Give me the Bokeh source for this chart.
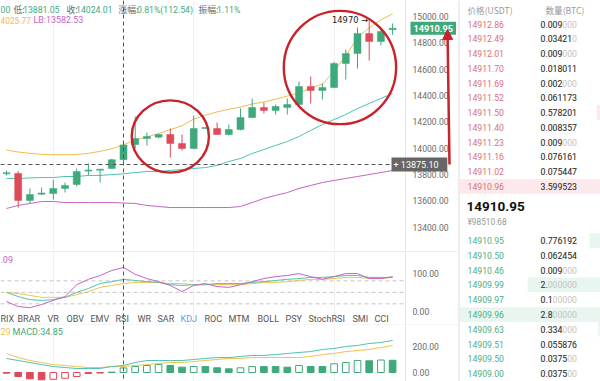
from bokeh.plotting import figure
from bokeh.layouts import row, column
from bokeh.models import (Range1d, LinearAxis, FixedTicker, NumeralTickFormatter, Span, Label,
                          Arrow, NormalHead, ColumnDataSource)
from bokeh.core.properties import value
from bokeh.embed import file_html
from bokeh.resources import INLINE

# ---------------- data ----------------
OPEN = [13805, 13807, 13602, 13650, 13655, 13693, 13723, 13825, 13832, 13845, 13911.47, 14027, 14073, 14083,
        14103, 14035, 13997, 14149, 14149, 14103, 14141, 14232, 14308, 14286, 14308, 14331, 14468, 14438,
        14460, 14643, 14719, 14871, 14810, 14900]
HIGH = [13830, 13825, 13693, 13700, 13761, 13738, 13845, 13883, 13840, 13918, 14035.00, 14240, 14118, 14110,
        14149, 14103, 14248, 14153, 14194, 14179, 14301, 14377, 14346, 14331, 14377, 14506, 14544, 14491,
        14655, 14749, 14916, 14970, 14905, 14947]
LOW = [13792, 13548, 13579, 13645, 13609, 13662, 13708, 13792, 13738, 13842, 13881.05, 13997, 14020, 14075,
       13928, 13982, 13990, 14146, 14100, 14098, 14135, 14228, 14263, 14255, 14255, 14325, 14339, 14369,
       14455, 14521, 14605, 14666, 14780, 14860]
CLOSE = [13808, 13602, 13647, 13655, 13693, 13716, 13822, 13830, 13837, 13911.47, 14024.01, 14073, 14088, 14103,
         14035, 13997, 14149, 14151, 14103, 14141, 14232, 14308, 14286, 14316, 14331, 14468, 14438, 14460,
         14643, 14719, 14871, 14810, 14886, 14910.95]
BOLL_UB = [13985, 13970, 13960, 13952, 13950, 13950, 13952, 13960, 13975, 13995, 14025.77, 14060, 14085, 14110,
           14140, 14170, 14220, 14250, 14275, 14295, 14312, 14335, 14350, 14372, 14395, 14418, 14456, 14486,
           14585, 14700, 14840, 14915, 14975, 15020]
BOLL_MB = [13769, 13769, 13773, 13776, 13776, 13784, 13784, 13792, 13792, 13799, 13804.15, 13814, 13822, 13822,
           13830, 13837, 13845, 13852, 13868, 13898, 13921, 13959, 13989, 14020, 14050, 14088, 14134, 14179,
           14217, 14255, 14301, 14339, 14377, 14415]
BOLL_LB = [13541, 13564, 13579, 13594, 13594, 13586, 13586, 13586, 13586, 13586, 13582.53, 13579, 13564, 13556,
           13548, 13548, 13548, 13548, 13548, 13548, 13556, 13586, 13617, 13640, 13662, 13693, 13716, 13738,
           13754, 13769, 13784, 13799, 13814, 13830]
KDJ_K = [50, 39, 31, 29, 31, 37, 50, 60, 73, 78, 84, 81, 78, 76, 70, 68, 70, 70, 73, 73, 73, 76, 78, 81,
         84, 86, 89, 89, 91, 94, 94, 89, 89, 89]
KDJ_D = [50, 47, 42, 37, 37, 37, 44, 52, 63, 68, 73, 76, 76, 76, 73, 73, 70, 70, 70, 70, 70, 73, 76, 76,
         78, 81, 84, 84, 86, 89, 89, 86, 86, 89]
KDJ_J = [26, 13, 10, 18, 29, 39, 70, 84, 94, 107, 115.09, 97, 86, 78, 68, 52, 68, 73, 65, 63, 70, 78, 86, 91,
         94, 99, 91, 84, 91, 99, 99, 86, 86, 91]
DIF = [108, 92, 77, 61, 46, 38, 31, 31, 31, 46, 54, 77, 92, 92, 92, 92, 100, 108, 115, 115, 123, 131, 131, 138,
       146, 154, 161, 177, 185, 200, 208, 223, 231, 246]
DEA = [146, 115, 92, 77, 61, 54, 46, 38, 38, 46, 46, 54, 61, 69, 77, 77, 85, 92, 100, 108, 108, 115, 115, 115,
       115, 115, 123, 138, 146, 161, 169, 177, 192, 208]
MACD = [-5, -31, -49, -56, -52, -44, -31, -8, -4, 3, 34.85, 46, 54, 62, 54, 41, 46, 46, 36, 28, 36, 46, 46, 46,
        41, 54, 46, 46, 67, 77, 92, 90, 96, 94]

PRICE_TICKS = [13400, 13600, 13800, 14000, 14200, 14400, 14600, 14800, 15000]
KDJ_TICKS = [0, 100]
KDJ_LEVELS = [80, 50, 20]
MACD_TICKS = [0, 200]

CROSS_IDX = 10
CROSS_PRICE = 13875.10
CIRCLES = [(11, 17), (24, 33)]

ASK_PRICE = ["14912.86", "14912.49", "14912.01", "14911.70", "14911.69", "14911.52", "14911.50", "14911.40",
             "14911.23", "14911.16", "14911.02", "14910.96"]
ASK_AMT = ["0.009000", "0.034210", "0.009000", "0.018011", "0.002000", "0.061173", "0.578201", "0.008357",
           "0.009000", "0.076161", "0.075447", "3.599523"]
BID_PRICE = ["14910.95", "14910.50", "14910.46", "14909.99", "14909.97", "14909.96", "14909.63", "14909.51",
             "14909.50", "14909.00"]
BID_AMT = ["0.776192", "0.062454", "0.009000", "2.000000", "0.100000", "2.800000", "0.334000", "0.055876",
           "0.037500", "0.037500"]
LAST_PRICE = "14910.95"
LAST_CNY = "¥98510.68"

# visible header fragments (the window cuts the left part of each line)
HDR1 = [("00", "v"), ("低:", "k"), ("13881.05", "v"), ("收:", "k"), ("14024.01", "v"), ("涨幅:", "k"),
        ("0.81%(112.54)", "v"), ("振幅:", "k"), ("1.11%", "v")]
HDR2 = [("4025.77", "ub"), ("LB:13582.53", "lb")]
KDJ_HDR = ".09"
MACD_HDR = [("29", "dea"), ("MACD:34.85", "macd")]

TABS = ["RIX", "BRAR", "VR", "OBV", "EMV", "RSI", "WR", "SAR", "KDJ", "ROC", "MTM", "BOLL", "PSY",
        "StochRSI", "SMI", "CCI"]
ACTIVE_TAB = "KDJ"

# ---------------- style / layout ----------------
def fs(px):
    return f"{px:.1f}px"

GREEN = "#3fa97c"
RED = "#dd4b58"
ORANGE = "#f2bb50"
TEAL = "#4fc2b2"
PURPLE = "#c563c6"
YELLOW = "#f0c24e"
ANNO = "#c8222b"
GRAY_TXT = "#6b6b6b"
FONT = "Roboto"
CJK = "Noto Sans CJK SC"

W_LEFT, W_OB = 457, 143
H_MAIN, H_KDJ, H_MACD = 250, 75, 56
AXIS_X = 405          # pixel column of the price-axis line


def ix(xp):
    return (xp - 6) / 11.7
def py(yp):
    return 15000 - (yp - 16) * 7.6
def ky(yp):
    return (311 - yp) / 0.383
def my(yp):
    return (372 - yp) * 7.69

N = len(CLOSE)
IDX = list(range(N))
XR = (ix(0), ix(W_LEFT))


def make_fig(w, h, xr, yr):
    p = figure(width=w, height=h, x_range=Range1d(*xr), y_range=Range1d(*yr), output_backend="svg",
               toolbar_location=None, x_axis_location=None, y_axis_location=None,
               min_border_left=0, min_border_right=0, min_border_top=0, min_border_bottom=0)
    p.outline_line_color = None
    p.background_fill_color = "white"
    p.border_fill_color = "white"
    return p


def right_axis(p, ticks, size):
    ax = LinearAxis(ticker=FixedTicker(ticks=ticks), formatter=NumeralTickFormatter(format="0.00"),
                    fixed_location=ix(AXIS_X))
    ax.major_tick_line_color = None
    ax.minor_tick_line_color = None
    ax.major_tick_out = 0
    ax.major_tick_in = 0
    ax.axis_line_color = "#e4e4e4"
    ax.major_label_text_font = FONT
    ax.major_label_text_font_size = fs(size)
    ax.major_label_text_color = GRAY_TXT
    ax.major_label_standoff = 7
    p.add_layout(ax, "right")


def cross_v(p):
    p.add_layout(Span(location=CROSS_IDX, dimension="height", line_color="#555555", line_dash="4 3",
                      line_width=1))


def setup_grid(p):
    p.xgrid.ticker = FixedTicker(ticks=[4, 16, 28])
    p.xgrid.grid_line_color = "#f1f1f1"
    p.ygrid.visible = False


# ---------------- main candle chart ----------------
pm = make_fig(W_LEFT, H_MAIN, XR, (py(H_MAIN), py(0)))
setup_grid(pm)
right_axis(pm, PRICE_TICKS, 8.6)

up = [c >= o for o, c in zip(OPEN, CLOSE)]
col = [GREEN if u else RED for u in up]
bot = [min(o, c) for o, c in zip(OPEN, CLOSE)]
top = [max(max(o, c), b + 8) for o, c, b in zip(OPEN, CLOSE, bot)]
src = ColumnDataSource(dict(x=IDX, o=OPEN, h=HIGH, l=LOW, c=CLOSE, top=top, bot=bot, col=col))

pm.line(IDX, BOLL_UB, line_color=ORANGE, line_width=1)
pm.line(IDX, BOLL_MB, line_color=TEAL, line_width=1)
pm.line(IDX, BOLL_LB, line_color=PURPLE, line_width=1)
pm.segment(x0="x", y0="l", x1="x", y1="h", line_color="col", line_width=1, source=src)
pm.vbar(x="x", width=0.6, top="top", bottom="bot", fill_color="col", line_color="col", line_width=0.5,
        source=src)

cross_v(pm)
pm.segment(x0=[ix(0)], x1=[ix(392)], y0=[CROSS_PRICE], y1=[CROSS_PRICE], line_color="#555555",
           line_dash="4 3", line_width=1)

# max-high marker
imax = max(IDX, key=lambda i: HIGH[i])
pm.text(x=[imax - 0.1], y=[HIGH[imax]], text=[f"{HIGH[imax]:.0f} →"], text_align="right",
        text_baseline="middle", text_font=value("DejaVu Sans"), text_font_size=fs(8.3), text_color="#222222")

# hand-drawn circles
for i0, i1 in CIRCLES:
    hh = max(HIGH[i0:i1 + 1]); ll = min(LOW[i0:i1 + 1])
    pm.ellipse(x=[(i0 + i1) / 2], y=[(hh + ll) / 2], width=[(i1 - i0) + 0.6],
               height=[0.79 * (hh - ll) + 296], fill_color=None, line_color=ANNO, line_width=2.4)

# header lines
HDR1_X = [0, 13, 22.5, 66, 75.5, 118, 136.5, 198, 216.5]
for (t, kind), xp in zip(HDR1, HDR1_X):
    cjk = kind == "k"
    pm.text(x=[ix(xp)], y=[py(9)], text=[t], text_baseline="alphabetic", text_font=value(CJK if cjk else FONT),
            text_font_size=fs(8.8 if cjk else 8.7), text_color=GRAY_TXT if cjk else GREEN)
HDR_COL = {"ub": ORANGE, "lb": PURPLE, "dea": YELLOW, "macd": GREEN}
for (t, kind), xp in zip(HDR2, [0, 33]):
    pm.text(x=[ix(xp)], y=[py(19.5)], text=[t], text_baseline="alphabetic", text_font=value(FONT),
            text_font_size=fs(8.4 if kind == "ub" else 8.9), text_color=HDR_COL[kind])

# price tags on the axis
pm.add_layout(Label(x=ix(410), y=CLOSE[-1], text=f"{CLOSE[-1]:.2f}", text_color="white",
                    text_font=FONT, text_font_size=fs(9.2), text_font_style="bold", text_baseline="middle",
                    background_fill_color=GREEN, padding=3))
pm.add_layout(Label(x=ix(391), y=CROSS_PRICE, text=f"+    {CROSS_PRICE:.2f}", text_color="white",
                    text_font=FONT, text_font_size=fs(9), text_baseline="middle",
                    background_fill_color="#666666", padding=2))
pm.add_layout(Arrow(end=NormalHead(size=10, fill_color=ANNO, line_color=ANNO), x_start=ix(449),
                    y_start=py(164), x_end=ix(447), y_end=py(29), line_color=ANNO, line_width=2.5))

# ---------------- KDJ panel + tabs ----------------
pk = make_fig(W_LEFT, H_KDJ, XR, (ky(325), ky(250)))
setup_grid(pk)
right_axis(pk, KDJ_TICKS, 8.6)
pk.segment(x0=[ix(0)] * 3, x1=[ix(AXIS_X)] * 3, y0=KDJ_LEVELS, y1=KDJ_LEVELS, line_color="#c4c4c4",
           line_dash="4 3", line_width=1)
pk.add_layout(Span(location=ky(251), dimension="width", line_color="#ececec", line_width=1))
pk.add_layout(Span(location=ky(324.5), dimension="width", line_color="#ececec", line_width=1))
pk.line(IDX, KDJ_D, line_color=YELLOW, line_width=1)
pk.line(IDX, KDJ_K, line_color=TEAL, line_width=1)
pk.line(IDX, KDJ_J, line_color=PURPLE, line_width=1)
cross_v(pk)
pk.text(x=[ix(0)], y=[ky(259)], text=[KDJ_HDR], text_baseline="middle",
        text_font=value(FONT), text_font_size=fs(9), text_color=PURPLE)
TAB_X = [0, 17, 47, 66, 90, 115, 137, 157, 180, 204, 228, 257, 285, 308, 352, 374]
pk.text(x=[ix(v) for v in TAB_X], y=[ky(318)] * len(TABS), text=TABS, text_baseline="middle",
        text_font=value(FONT), text_font_size=fs(9),
        text_color=["#5aa0e6" if t == ACTIVE_TAB else "#555555" for t in TABS])

# ---------------- MACD panel ----------------
pc = make_fig(W_LEFT, H_MACD, XR, (my(381), my(325)))
setup_grid(pc)
right_axis(pc, MACD_TICKS, 8.6)
fills, lines = [], []
for i, v in enumerate(MACD):
    prev = MACD[i - 1] if i > 0 else None
    c = GREEN if v >= 0 else RED
    hollow = prev is not None and v > prev
    lines.append(c)
    fills.append("white" if hollow else c)
pc.vbar(x=IDX, width=0.57, top=[max(v, 0) for v in MACD], bottom=[min(v, 0) for v in MACD],
        fill_color=fills, line_color=lines, line_width=1)
pc.line(IDX, DEA, line_color=YELLOW, line_width=1)
pc.line(IDX, DIF, line_color=TEAL, line_width=1)
cross_v(pc)
for (t, kind), xp in zip(MACD_HDR, [0, 12]):
    pc.text(x=[ix(xp)], y=[my(331)], text=[t], text_baseline="middle", text_font=value(FONT),
            text_font_size=fs(9), text_color=HDR_COL[kind])

# ---------------- order book ----------------
po = make_fig(W_OB, H_MACD + H_KDJ + H_MAIN, (457, 600), (381, 0))
po.grid.visible = False
ROW_H = 14.75
ASK_Y0, BID_Y0 = 23.5, 240
ask_y = [ASK_Y0 + ROW_H * k for k in range(len(ASK_PRICE))]
bid_y = [BID_Y0 + 14.8 * k for k in range(len(BID_PRICE))]
amax_a = max(float(a) for a in ASK_AMT)
amax_b = max(float(a) for a in BID_AMT)
po.hbar(y=ask_y, height=ROW_H, right=600, left=[600 - 143 * (float(a) / amax_a) ** 2 for a in ASK_AMT],
        fill_color="#fde9ec", line_color=None)
po.hbar(y=bid_y, height=ROW_H, right=600, left=[600 - 143 * (float(a) / amax_b) ** 2 for a in BID_AMT],
        fill_color="#e8f6ef", line_color=None)
po.quad(left=[457], right=[459.5], top=[0], bottom=[381], fill_color="#eeeeee", line_color=None)


def sig(s):
    return s.rstrip("0")


for prices, amts, ys, pcol in ((ASK_PRICE, ASK_AMT, ask_y, "#d8707e"), (BID_PRICE, BID_AMT, bid_y, "#4fae86")):
    po.text(x=[467] * len(prices), y=ys, text=prices, text_baseline="middle", text_font=value(FONT),
            text_font_size=fs(8.7), text_color=pcol)
    po.text(x=[540] * len(amts), y=ys, text=amts, text_baseline="middle", text_font=value(FONT),
            text_font_size=fs(8.7), text_color="#c4c4c4")
    po.text(x=[540] * len(amts), y=ys, text=[sig(a) for a in amts], text_baseline="middle",
            text_font=value(FONT), text_font_size=fs(8.7), text_color="#333333")

po.text(x=[467, 545], y=[9, 9], text=["价格(USDT)", "数量(BTC)"], text_baseline="alphabetic",
        text_font=value(CJK), text_font_size=fs(8.6), text_color="#9a9a9a")
po.text(x=[466], y=[206], text=[LAST_PRICE], text_baseline="middle", text_font=value(FONT),
        text_font_size=fs(13.5), text_font_style="bold", text_color="#111111")
po.text(x=[467], y=[221], text=[LAST_CNY], text_baseline="middle", text_font=value(FONT),
        text_font_size=fs(8.3), text_color="#999999")

layout = row(column(pm, pk, pc), po)
open("out.html", "w").write(file_html(layout, INLINE))
